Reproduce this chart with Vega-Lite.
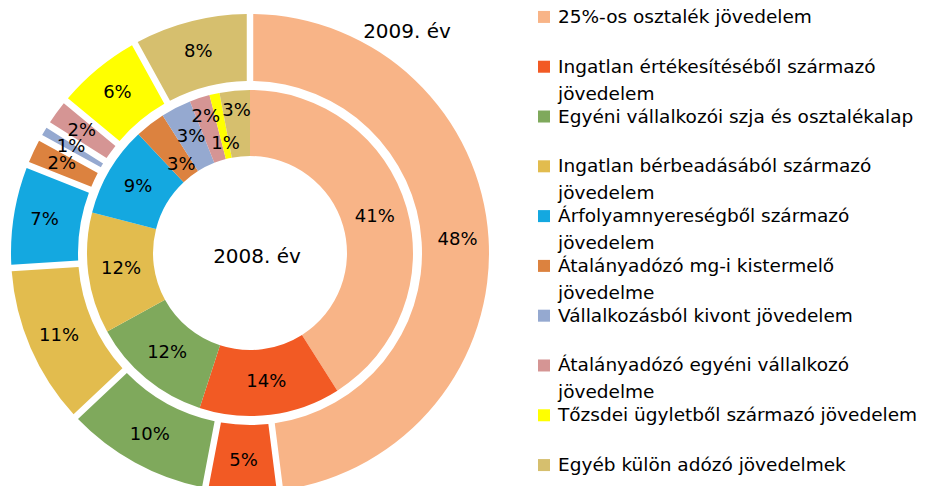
{
  "$schema": "https://vega.github.io/schema/vega-lite/v6.json",
  "padding": 0,
  "background": "white",
  "spacing": 38,
  "config": {"view": {"stroke": null}, "font": "DejaVu Sans", "concat": {"spacing": 38}},
  "datasets": {
    "income": [
      {"idx": 1, "category": "25%-os osztalék jövedelem", "year": 2008, "share": 0.41},
      {"idx": 2, "category": "Ingatlan értékesítéséből származó jövedelem", "year": 2008, "share": 0.14},
      {"idx": 3, "category": "Egyéni vállalkozói szja és osztalékalap", "year": 2008, "share": 0.12},
      {"idx": 4, "category": "Ingatlan bérbeadásából származó jövedelem", "year": 2008, "share": 0.12},
      {"idx": 5, "category": "Árfolyamnyereségből származó jövedelem", "year": 2008, "share": 0.09},
      {"idx": 6, "category": "Átalányadózó mg-i kistermelő jövedelme", "year": 2008, "share": 0.03},
      {"idx": 7, "category": "Vállalkozásból kivont jövedelem", "year": 2008, "share": 0.03},
      {"idx": 8, "category": "Átalányadózó egyéni vállalkozó jövedelme", "year": 2008, "share": 0.02},
      {"idx": 9, "category": "Tőzsdei ügyletből származó jövedelem", "year": 2008, "share": 0.01},
      {"idx": 10, "category": "Egyéb külön adózó jövedelmek", "year": 2008, "share": 0.03},
      {"idx": 1, "category": "25%-os osztalék jövedelem", "year": 2009, "share": 0.48},
      {"idx": 2, "category": "Ingatlan értékesítéséből származó jövedelem", "year": 2009, "share": 0.05},
      {"idx": 3, "category": "Egyéni vállalkozói szja és osztalékalap", "year": 2009, "share": 0.10},
      {"idx": 4, "category": "Ingatlan bérbeadásából származó jövedelem", "year": 2009, "share": 0.11},
      {"idx": 5, "category": "Árfolyamnyereségből származó jövedelem", "year": 2009, "share": 0.07},
      {"idx": 6, "category": "Átalányadózó mg-i kistermelő jövedelme", "year": 2009, "share": 0.02},
      {"idx": 7, "category": "Vállalkozásból kivont jövedelem", "year": 2009, "share": 0.01},
      {"idx": 8, "category": "Átalányadózó egyéni vállalkozó jövedelme", "year": 2009, "share": 0.02},
      {"idx": 9, "category": "Tőzsdei ügyletből származó jövedelem", "year": 2009, "share": 0.06},
      {"idx": 10, "category": "Egyéb külön adózó jövedelmek", "year": 2009, "share": 0.08}
    ],
    "cats": [
      {"idx": 1, "category": "25%-os osztalék jövedelem", "label": "25%-os osztalék jövedelem"},
      {"idx": 2, "category": "Ingatlan értékesítéséből származó jövedelem", "label": "Ingatlan értékesítéséből származó|jövedelem"},
      {"idx": 3, "category": "Egyéni vállalkozói szja és osztalékalap", "label": "Egyéni vállalkozói szja és osztalékalap"},
      {"idx": 4, "category": "Ingatlan bérbeadásából származó jövedelem", "label": "Ingatlan bérbeadásából származó|jövedelem"},
      {"idx": 5, "category": "Árfolyamnyereségből származó jövedelem", "label": "Árfolyamnyereségből származó|jövedelem"},
      {"idx": 6, "category": "Átalányadózó mg-i kistermelő jövedelme", "label": "Átalányadózó mg-i kistermelő|jövedelme"},
      {"idx": 7, "category": "Vállalkozásból kivont jövedelem", "label": "Vállalkozásból kivont jövedelem"},
      {"idx": 8, "category": "Átalányadózó egyéni vállalkozó jövedelme", "label": "Átalányadózó egyéni vállalkozó|jövedelme"},
      {"idx": 9, "category": "Tőzsdei ügyletből származó jövedelem", "label": "Tőzsdei ügyletből származó jövedelem"},
      {"idx": 10, "category": "Egyéb külön adózó jövedelmek", "label": "Egyéb külön adózó jövedelmek"}
    ]
  },
  "hconcat": [
    {
      "width": 500,
      "height": 506,
      "data": {"name": "income"},
      "layer": [
        {
          "transform": [{"filter": "datum.year == 2008"}],
          "mark": {"type": "arc", "innerRadius": 97, "outerRadius": 163},
          "encoding": {
            "theta": {"field": "share", "type": "quantitative", "stack": true, "scale": {"domain": [0, 1]}},
            "order": {"field": "idx", "type": "quantitative"},
            "color": {
              "field": "category", "type": "nominal", "legend": null,
              "scale": {
                "domain": ["25%-os osztalék jövedelem", "Ingatlan értékesítéséből származó jövedelem", "Egyéni vállalkozói szja és osztalékalap", "Ingatlan bérbeadásából származó jövedelem", "Árfolyamnyereségből származó jövedelem", "Átalányadózó mg-i kistermelő jövedelme", "Vállalkozásból kivont jövedelem", "Átalányadózó egyéni vállalkozó jövedelme", "Tőzsdei ügyletből származó jövedelem", "Egyéb külön adózó jövedelmek"],
                "range": ["#F8B487", "#F25A24", "#7FA95C", "#E2BC4E", "#14A8E0", "#DC823F", "#95A9D0", "#D59594", "#FFFF00", "#D6BF6E"]
              }
            }
          }
        },
        {
          "transform": [{"filter": "datum.year == 2009"}],
          "mark": {"type": "arc", "innerRadius": 172, "outerRadius": 239, "padAngle": 0.022},
          "encoding": {
            "theta": {"field": "share", "type": "quantitative", "stack": true, "scale": {"domain": [0, 1]}},
            "order": {"field": "idx", "type": "quantitative"},
            "color": {"field": "category", "type": "nominal", "legend": null}
          }
        },
        {
          "transform": [{"filter": "datum.year == 2008"}],
          "mark": {"type": "text", "radius": 130, "fontSize": 18, "color": "black"},
          "encoding": {
            "theta": {"field": "share", "type": "quantitative", "stack": true},
            "order": {"field": "idx", "type": "quantitative"},
            "text": {"condition": {"test": "datum.idx <= 5 || datum.idx == 7", "field": "share", "type": "quantitative", "format": ".0%"}, "value": ""}
          }
        },
        {
          "transform": [{"filter": "datum.year == 2008"}],
          "mark": {"type": "text", "radius": 112, "fontSize": 18, "color": "black"},
          "encoding": {
            "theta": {"field": "share", "type": "quantitative", "stack": true},
            "order": {"field": "idx", "type": "quantitative"},
            "text": {"condition": {"test": "datum.idx == 6 || datum.idx == 9", "field": "share", "type": "quantitative", "format": ".0%"}, "value": ""}
          }
        },
        {
          "transform": [{"filter": "datum.year == 2008"}],
          "mark": {"type": "text", "radius": 143, "fontSize": 18, "color": "black"},
          "encoding": {
            "theta": {"field": "share", "type": "quantitative", "stack": true},
            "order": {"field": "idx", "type": "quantitative"},
            "text": {"condition": {"test": "datum.idx == 8 || datum.idx == 10", "field": "share", "type": "quantitative", "format": ".0%"}, "value": ""}
          }
        },
        {
          "transform": [{"filter": "datum.year == 2009"}],
          "mark": {"type": "text", "radius": 208, "fontSize": 18, "color": "black"},
          "encoding": {
            "theta": {"field": "share", "type": "quantitative", "stack": true},
            "order": {"field": "idx", "type": "quantitative"},
            "text": {"field": "share", "type": "quantitative", "format": ".0%"}
          }
        },
        {
          "data": {"values": [{"t": "2008. év"}]},
          "mark": {"type": "text", "fontSize": 20, "dx": 7, "dy": 4, "color": "black"},
          "encoding": {"text": {"field": "t", "type": "nominal"}}
        },
        {
          "data": {"values": [{"t": "2009. év"}]},
          "mark": {"type": "text", "fontSize": 20, "dx": 157, "dy": -221, "color": "black"},
          "encoding": {"text": {"field": "t", "type": "nominal"}}
        }
      ]
    },
    {
      "width": 12,
      "height": 482,
      "data": {"name": "cats"},
      "encoding": {
        "y": {"field": "category", "type": "nominal", "sort": {"field": "idx"}, "scale": {"type": "point", "padding": 0.34}, "axis": null}
      },
      "layer": [
        {
          "mark": {"type": "square", "size": 144, "filled": true, "opacity": 1},
          "encoding": {"color": {"field": "category", "type": "nominal", "legend": null}}
        },
        {
          "mark": {"type": "text", "align": "left", "baseline": "alphabetic", "dx": 14, "dy": 6, "fontSize": 18.5, "lineHeight": 27, "lineBreak": "|", "color": "black"},
          "encoding": {"text": {"field": "label", "type": "nominal"}}
        }
      ]
    }
  ]
}
